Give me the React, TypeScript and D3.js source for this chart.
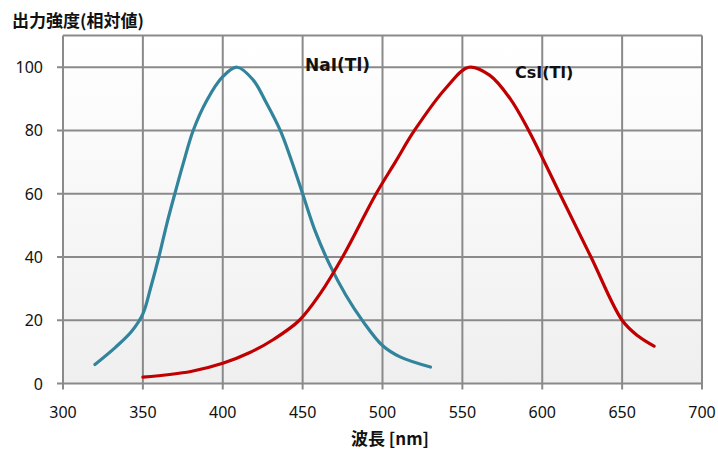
import React from 'react';
import * as d3 from 'd3';

// wavelength [nm] / relative output
const naiWave = [320, 333, 343, 350, 355, 360, 365, 370, 375.5, 381.5, 390, 400, 409, 419, 427, 436, 443, 450, 458, 467, 477, 488, 500, 511, 530];
const naiValue = [6, 11.5, 16.5, 22, 30.5, 40, 50.5, 60, 70, 80, 89.5, 97, 100, 96, 89, 80, 70.5, 60, 48, 37.5, 28, 19.5, 12, 8.4, 5.2];

const csiWave = [350, 380, 400, 417, 432, 448, 461, 475, 496, 508, 520, 540, 554, 567, 580, 591.5, 611, 630.5, 650, 660, 670];
const csiValue = [2, 3.8, 6.4, 9.8, 14, 20, 28.4, 40, 60, 70, 80, 93.6, 100, 97.5, 90, 80, 60, 40, 20, 15, 11.8];

const xTicks = [300, 350, 400, 450, 500, 550, 600, 650, 700];
const yTicks = [0, 20, 40, 60, 80, 100];

const W = 718;
const H = 451;

export default function App() {
	const x = d3.scaleLinear().domain([300, 700]).range([63, 702]);
	const y = d3.scaleLinear().domain([0, 110]).range([383.5, 35.6]);

	const line = d3
		.line<[number, number]>()
		.x(d => x(d[0]))
		.y(d => y(d[1]))
		.curve(d3.curveCatmullRom.alpha(0.5));

	const nai = naiWave.map((w, i) => [w, naiValue[i]] as [number, number]);
	const csi = csiWave.map((w, i) => [w, csiValue[i]] as [number, number]);

	const gridColor = '#8a8a8a';
	const numFont = '"Noto Sans", sans-serif';
	const jpFont = '"Noto Sans CJK JP", sans-serif';
	const labelFont = '"DejaVu Sans", sans-serif';

	return (
		<div style={{ position: 'absolute', left: 0, top: 0 }}>
			<svg width={W} height={H} style={{ display: 'block', background: '#fff' }}>
				<defs>
					<linearGradient id="plotBg" x1="0" y1="0" x2="0" y2="1">
						<stop offset="0" stopColor="#ffffff" />
						<stop offset="1" stopColor="#efefef" />
					</linearGradient>
				</defs>
				<rect x={x(300)} y={y(110)} width={x(700) - x(300)} height={y(0) - y(110)} fill="url(#plotBg)" />

				{/* grid */}
				{xTicks.map(t => (
					<line key={'gx' + t} x1={x(t)} x2={x(t)} y1={y(110)} y2={y(0) + 6} stroke={gridColor} strokeWidth={2} />
				))}
				{yTicks.concat([110]).map(t => (
					<line key={'gy' + t} x1={t === 110 ? x(300) : x(300) - 6} x2={x(700)} y1={y(t)} y2={y(t)} stroke={gridColor} strokeWidth={2} />
				))}

				{/* tick labels */}
				{xTicks.map(t => (
					<text key={'tx' + t} x={x(t)} y={418} textAnchor="middle" fontFamily={numFont} fontSize={16} fill="#111">
						{t}
					</text>
				))}
				{yTicks.map(t => (
					<text key={'ty' + t} x={43} y={y(t) + 6} textAnchor="end" fontFamily={numFont} fontSize={16} fill="#111">
						{t}
					</text>
				))}

				{/* curves */}
				<path d={line(nai) || ''} fill="none" stroke="#31849b" strokeWidth={3.2} strokeLinecap="round" />
				<path d={line(csi) || ''} fill="none" stroke="#c00000" strokeWidth={3.2} strokeLinecap="round" />

				{/* labels */}
				<text x={305} y={71} fontFamily={labelFont} fontWeight="bold" fontSize={17} fill="#111">
					NaI(Tl)
				</text>
				<text x={515} y={78} fontFamily={labelFont} fontWeight="bold" fontSize={16} fill="#111">
					CsI(Tl)
				</text>

				<text x={12} y={27} fontFamily={jpFont} fontWeight="bold" fontSize={17} fill="#111">
					出力強度(相対値)
				</text>
				<text x={390} y={445} textAnchor="middle" fontFamily={jpFont} fontWeight="bold" fontSize={17} fill="#111">
					波長 [nm]
				</text>
			</svg>
		</div>
	);
}
